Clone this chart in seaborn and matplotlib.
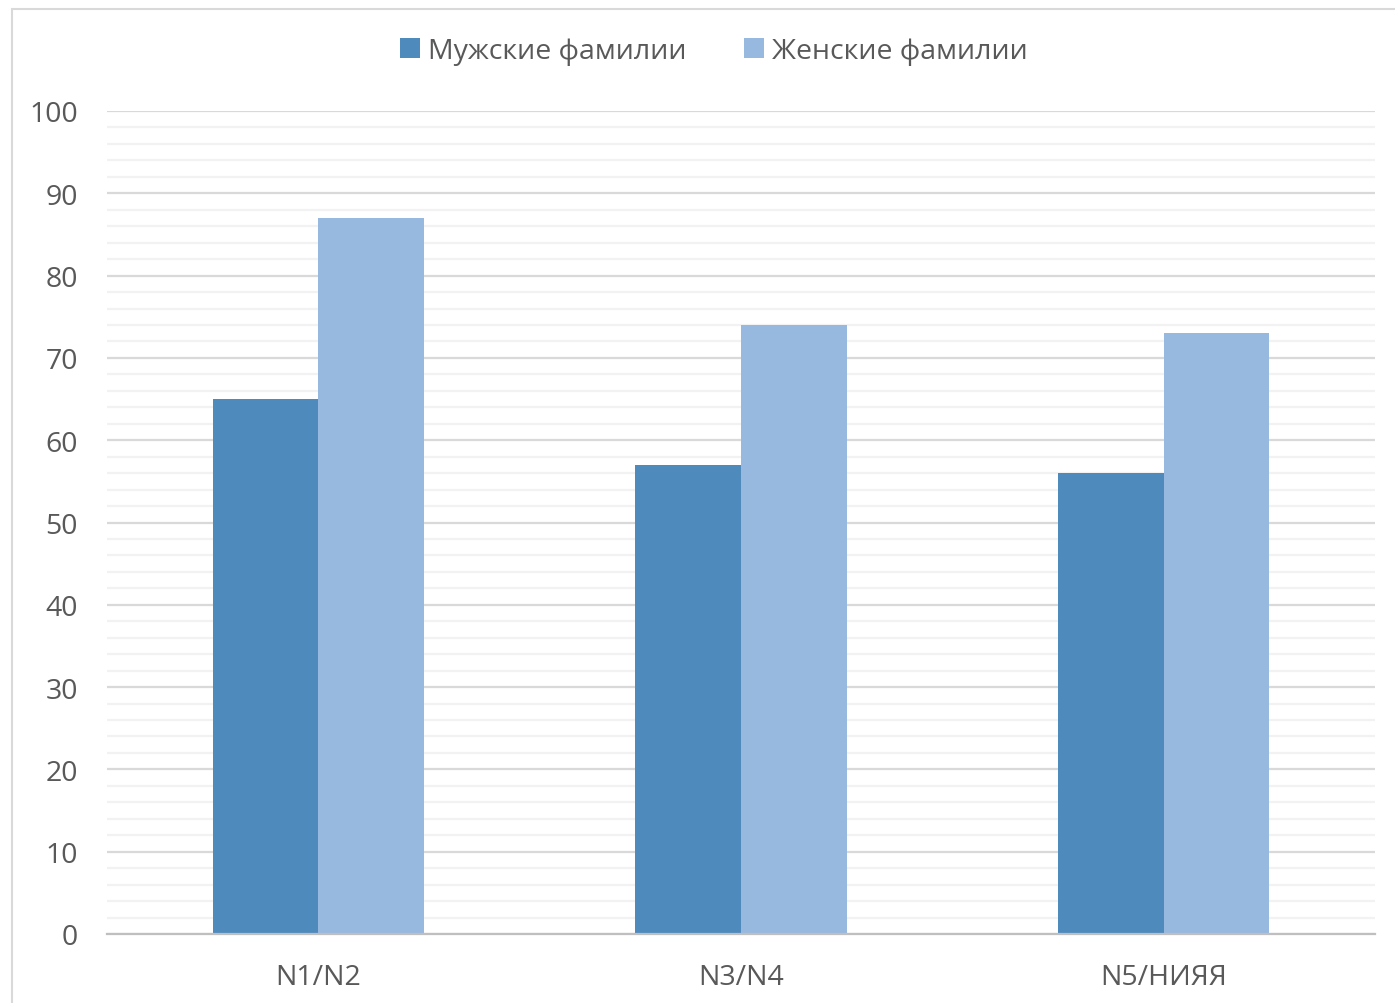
import matplotlib
matplotlib.use("Agg")
import matplotlib.pyplot as plt
import matplotlib.patches as mpatches
from matplotlib.ticker import MultipleLocator
import pandas as pd
import seaborn as sns

categories = ["N1/N2", "N3/N4", "N5/НИЯЯ"]
series_names = ["Мужские фамилии", "Женские фамилии"]
male_values = [65, 57, 56]
female_values = [87, 74, 73]
y_ticks = [0, 10, 20, 30, 40, 50, 60, 70, 80, 90, 100]

colors = ["#4F8ABD", "#98B9DF"]
text_color = "#595959"

df = pd.DataFrame({
    "category": categories * 2,
    "series": [series_names[0]] * 3 + [series_names[1]] * 3,
    "value": male_values + female_values,
})

sns.set_theme(style="white")
plt.rcParams["font.family"] = ["Open Sans", "DejaVu Sans"]

fig = plt.figure(figsize=(13.95, 10.04), dpi=100)
ax = fig.add_axes([107 / 1395, 69 / 1004, 1268 / 1395, 823 / 1004])

# outer chart frame (cut off at the right and bottom edges)
fig.patches.append(mpatches.Rectangle((12 / 1395, -0.05), 1.2, (994 / 1004) + 0.05,
                                      transform=fig.transFigure, fill=False,
                                      edgecolor="#D9D9D9", linewidth=1.5, zorder=0))

sns.barplot(data=df, x="category", y="value", hue="series", palette=colors,
            width=0.5, saturation=1, gap=0, ax=ax, legend=False,
            edgecolor="none", zorder=3)

ax.set_xlim(-0.5, 2.5)
ax.set_ylim(0, 100)
ax.set_yticks(y_ticks)
ax.yaxis.set_minor_locator(MultipleLocator(2))
ax.grid(axis="y", which="major", color="#D9D9D9", linewidth=1.6, zorder=1)
ax.grid(axis="y", which="minor", color="#F2F2F2", linewidth=1.6, zorder=0)
ax.set_axisbelow(True)

for side in ["top", "right", "left"]:
    ax.spines[side].set_visible(False)
ax.spines["bottom"].set_color("#BFBFBF")
ax.spines["bottom"].set_linewidth(1.6)
ax.spines["bottom"].set_zorder(4)

ax.tick_params(axis="y", which="both", length=0, pad=21, labelsize=20.5, labelcolor=text_color)
ax.tick_params(axis="x", length=0, pad=21, labelsize=20.5, labelcolor=text_color)
ax.set_xlabel("")
ax.set_ylabel("")

handles = [mpatches.Patch(facecolor=c, edgecolor="none") for c in colors]
fig.legend(handles, series_names, loc="center", bbox_to_anchor=(714 / 1395, 1 - 52 / 1004),
           ncol=2, frameon=False, fontsize=20.5, labelcolor=text_color,
           handlelength=0.7, handleheight=0.7, handletextpad=0.3, columnspacing=2.0)

fig.savefig("out.png", dpi=100, facecolor="white")
